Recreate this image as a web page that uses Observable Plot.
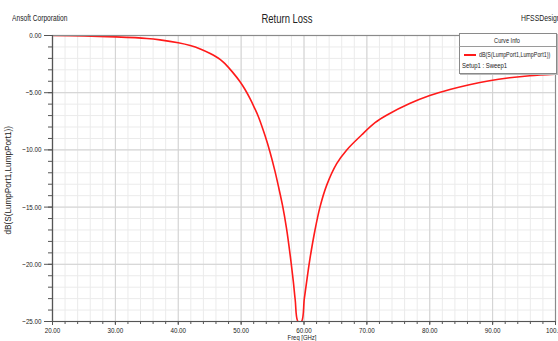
<!DOCTYPE html>
<html>
<head>
<meta charset="utf-8">
<script src="https://cdn.jsdelivr.net/npm/d3@7"></script>
<script src="https://cdn.jsdelivr.net/npm/@observablehq/plot@0.6"></script>
<style>
  html, body { margin: 0; padding: 0; background: #fff; }
  #wrap { position: relative; width: 558px; height: 341px; overflow: hidden; font-family: "Liberation Sans", Arial, sans-serif; color: #222; }
  .t { position: absolute; white-space: nowrap; transform-origin: 0 0; line-height: 1; }
  svg text { font-family: "Liberation Sans", Arial, sans-serif; }
</style>
</head>
<body>
<div id="wrap"></div>
<script>
// Data
const freq = [20, 25, 30, 35, 37.1, 40, 41.9, 43.5, 45, 46.7, 47.5, 48.6, 49.8, 50.6, 51.4, 52.1, 52.75, 53.8, 54.6, 55.4, 56.0, 56.6, 57.2, 57.8, 58.3, 58.6, 59.05, 59.6, 60.05, 60.5, 60.95, 61.75, 62.54, 63.6, 65.2, 66.8, 69.15, 71.3, 73.2, 76.8, 80, 83.2, 86.3, 89.5, 92.7, 95.9, 100];
const s11 = [0, -0.03, -0.12, -0.26, -0.38, -0.63, -0.87, -1.17, -1.55, -2.1, -2.5, -3.18, -4.02, -4.7, -5.5, -6.3, -7.1, -8.75, -10.2, -11.9, -13.35, -14.9, -16.8, -19.2, -21.5, -23.1, -25, -25, -23.0, -21.2, -19.5, -17.0, -15.0, -13.1, -11.2, -10.0, -8.7, -7.62, -6.95, -5.95, -5.25, -4.72, -4.3, -3.95, -3.7, -3.52, -3.38];
const xMajor = [20, 30, 40, 50, 60, 70, 80, 90, 100];
const xMinor = d3.range(20, 101, 2);
const yMajor = [0, -5, -10, -15, -20, -25];
const yMinor = d3.range(-25, 1, 1);
const title = "Return Loss";
const company = "Ansoft Corporation";
const design = "HFSSDesign1";
const xLabel = "Freq [GHz]";
const yLabel = "dB(S(LumpPort1,LumpPort1))";
const legendTitle = "Curve Info";
const seriesName = "dB(S(LumpPort1,LumpPort1))";
const setupName = "Setup1 : Sweep1";

const data = freq.map((f, i) => ({f, v: s11[i]}));
const fmt = d3.format(".2f");

const chart = Plot.plot({
  width: 558,
  height: 341,
  marginLeft: 52,
  marginRight: 3,
  marginTop: 35,
  marginBottom: 20,
  style: {fontSize: "8px", color: "#222", background: "white"},
  x: {domain: [20, 100]},
  y: {domain: [-25, 0]},
  marks: [
    Plot.gridX(xMinor, {stroke: "#ebebeb", strokeOpacity: 1}),
    Plot.gridY(yMinor, {stroke: "#ebebeb", strokeOpacity: 1}),
    Plot.gridX(xMajor, {stroke: "#d2d2d2", strokeOpacity: 1}),
    Plot.gridY(yMajor, {stroke: "#d2d2d2", strokeOpacity: 1}),
    Plot.line(data, {x: "f", y: "v", stroke: "#ff1a1a", strokeWidth: 1.6, curve: "catmull-rom", clip: true}),
    Plot.frame({stroke: "#8a8a8a", strokeWidth: 1.2}),
    Plot.axisX(xMinor, {tickSize: 3, tickFormat: () => "", stroke: "#555", label: null}),
    Plot.axisX(xMajor, {tickSize: 4, tickPadding: 2, tickFormat: fmt, stroke: "#555", label: null}),
    Plot.axisY(yMinor, {tickSize: 4, tickFormat: () => "", stroke: "#555", label: null}),
    Plot.axisY(yMajor, {tickSize: 8, tickPadding: 3, tickFormat: fmt, stroke: "#555", label: null}),
    Plot.ruleX([20], {stroke: "#555", strokeWidth: 1.2}),
    Plot.ruleY([-25], {stroke: "#555", strokeWidth: 1.2})
  ]
});

const wrap = document.getElementById("wrap");
wrap.appendChild(chart);

// condense svg text like the narrow source font
chart.querySelectorAll("text").forEach(t => {
  const L = t.getComputedTextLength();
  if (L > 0) { t.setAttribute("textLength", (L * 0.78).toFixed(2)); t.setAttribute("lengthAdjust", "spacingAndGlyphs"); }
});

function addText(txt, left, top, size, opts = {}) {
  const d = document.createElement("div");
  d.className = "t";
  d.textContent = txt;
  d.style.fontSize = size + "px";
  d.style.left = left + "px";
  d.style.top = top + "px";
  const sx = opts.sx ?? 0.76;
  let tr = "";
  if (opts.center) tr += "translateX(-50%) ";
  tr += `scaleX(${sx})`;
  if (opts.center) { d.style.transformOrigin = "50% 0"; }
  if (opts.rotate) { tr = "rotate(-90deg) translateX(-50%) scaleX(" + sx + ")"; d.style.transformOrigin = "0 0"; }
  d.style.transform = tr;
  if (opts.color) d.style.color = opts.color;
  wrap.appendChild(d);
  return d;
}

addText(company, 12, 13, 9.5, {sx: 0.7});
addText(title, 287, 12, 13.5, {center: true, sx: 0.7});
addText(design, 521, 13, 9.5, {sx: 0.72});
addText(xLabel, 302, 334, 8, {center: true, sx: 0.74});
addText(yLabel, 4, 178, 8.5, {rotate: true, sx: 0.96});

// legend box
const box = document.createElement("div");
box.style.cssText = "position:absolute;left:459px;top:33px;width:96px;height:39px;background:#fff;border:1px solid #8a8a8a;box-shadow:1px 1px 0 #bbb;";
wrap.appendChild(box);
const sep = document.createElement("div");
sep.style.cssText = "position:absolute;left:459px;top:46px;width:97px;height:0;border-top:1px solid #9a9a9a;";
wrap.appendChild(sep);
addText(legendTitle, 507, 37, 8, {center: true, sx: 0.7});
const sw = document.createElement("div");
sw.style.cssText = "position:absolute;left:464px;top:53.5px;width:12px;height:0;border-top:2px solid #ff1a1a;";
wrap.appendChild(sw);
addText(seriesName, 479, 50.5, 8, {sx: 0.67});
addText(setupName, 462, 62, 8, {sx: 0.74});
</script>
</body>
</html>
